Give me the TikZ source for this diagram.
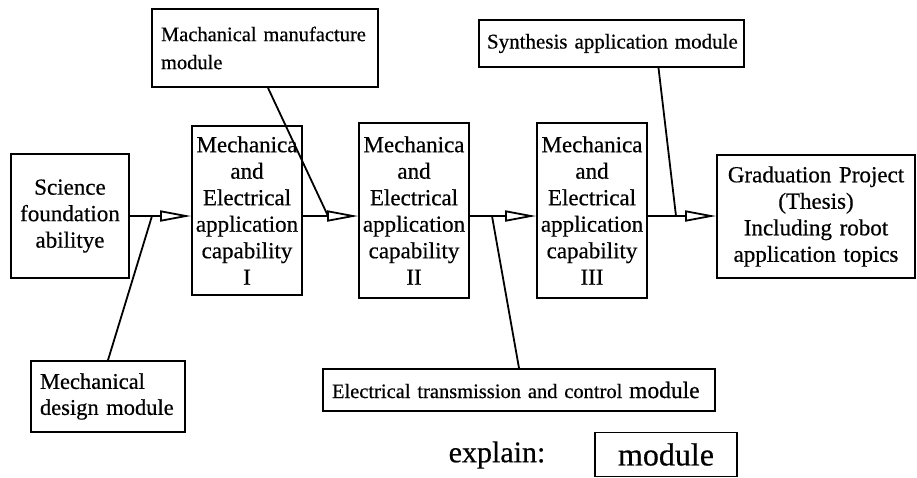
\documentclass[tikz,border=0pt]{standalone}
\usepackage{fontspec}
\setmainfont{Liberation Serif}[FakeBold=0.5]
\usetikzlibrary{arrows.meta}

\begin{document}
\begin{tikzpicture}[
    x=1pt, y=-1pt,
    box/.style={draw, line width=1.8pt, inner sep=2pt, align=center,
        font=\fontsize{23}{26.5}\selectfont},
    stage/.style={box, minimum width=110pt, text width=106pt},
    unit/.style={draw, line width=1.8pt, inner xsep=9pt, align=left,
        font=\fontsize{20.5}{28}\selectfont},
    feed/.style={line width=1.8pt},
    flow/.style={line width=1.8pt,
        -{Triangle[open, length=31pt, width=11pt, line width=1.8pt]}},
  ]
  \useasboundingbox (0,0) rectangle (917,477);
  % main chain
  \node[box, minimum width=118pt, minimum height=124pt, text width=114pt] (sci) at (70,216) {Science\\foundation\\abilitye};
  \node[stage, minimum height=169pt] (m1) at (247,210.5) {Mechanica\\and\\Electrical\\application\\capability\\I};
  \node[stage, minimum height=175pt] (m2) at (414,210.5) {Mechanica\\and\\Electrical\\application\\capability\\II};
  \node[stage, minimum height=175pt] (m3) at (592,210.5) {Mechanica\\and\\Electrical\\application\\capability\\III};
  \node[box, minimum width=198pt, minimum height=123pt, text width=194pt] (grad) at (816,216.5) {Graduation Project\\(Thesis)\\Including robot\\application topics};
  % modules
  \node[unit, minimum width=226pt, minimum height=78pt, text width=208pt] (mfg) at (265,48) {Machanical manufacture\\module};
  \node[unit, minimum width=265pt, minimum height=47pt, text width=257pt, inner xsep=4pt, font=\fontsize{21}{26}\selectfont] (syn) at (611.5,43.5) {\hspace*{4pt}Synthesis application module};
  \node[unit, minimum width=154pt, minimum height=71pt, text width=136pt, font=\fontsize{22.5}{26}\selectfont] (dsg) at (108,396.5) {Mechanical\\design module};
  \node[unit, minimum width=392pt, minimum height=42pt, text width=374pt] (elec) at (519,390) {{\fontsize{20.5}{24}\selectfont Electrical transmission and control} {\fontsize{23.5}{24}\selectfont module}};
  % legend
  \node[font=\fontsize{30}{32}\selectfont] (expl) at (497,455) {explain:};
  \node[draw, line width=1.8pt, minimum width=142pt, minimum height=44pt, font=\fontsize{32}{32}\selectfont] (key) at (666,454.5) {module};
  % junctions on the chain
  \coordinate (j1) at (152,216);
  \coordinate (j2) at (328,216);
  \coordinate (j3) at (492,216);
  \coordinate (j4) at (676,216);
  \draw[flow] (sci) -- (sci -| m1.west);
  \draw[flow] (m1.east |- sci) -- (m2.west |- sci);
  \draw[flow] (m2.east |- sci) -- (m3.west |- sci);
  \draw[flow] (m3.east |- sci) -- (grad.west |- sci);
  \draw[feed] (dsg.north) -- (j1);
  \draw[feed] ([xshift=3pt]mfg.south) -- (j2);
  \draw[feed] (elec.north) -- (j3);
  \draw[feed] ([xshift=47pt]syn.south) -- (j4);
\end{tikzpicture}
\end{document}
